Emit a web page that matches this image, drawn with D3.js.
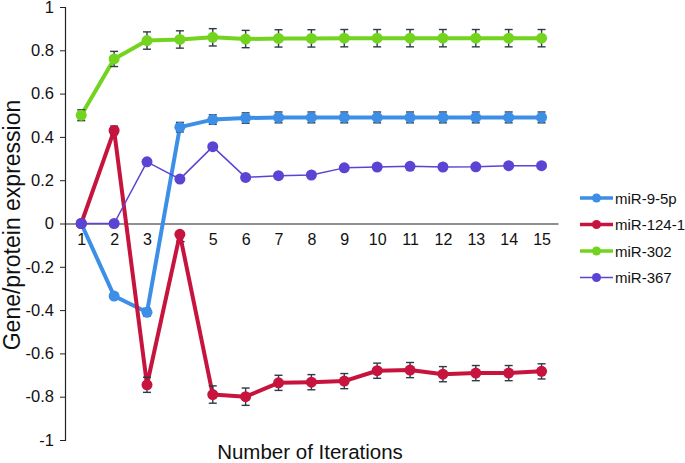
<!doctype html>
<html>
<head>
	<meta charset="UTF-8">
	<script src="https://d3js.org/d3.v7.min.js"></script>
	<style>
		body { margin: 0; background: #fff; }
		text { font-family: "Liberation Sans", Arial, sans-serif; }
	</style>
</head>
<body>
	<script>
		// data
		var iterations = [1, 2, 3, 4, 5, 6, 7, 8, 9, 10, 11, 12, 13, 14, 15];
		var yTicks = [-1, -0.8, -0.6, -0.4, -0.2, 0, 0.2, 0.4, 0.6, 0.8, 1];

		var mir95p = [0, -0.335, -0.41, 0.445, 0.48, 0.487, 0.49, 0.49, 0.49, 0.49, 0.49, 0.49, 0.49, 0.49, 0.49];
		var mir95pErr = [0, 0.012, 0.018, 0.022, 0.022, 0.024, 0.025, 0.025, 0.025, 0.025, 0.025, 0.025, 0.025, 0.025, 0.025];

		var mir1241 = [0, 0.43, -0.745, -0.05, -0.79, -0.80, -0.736, -0.733, -0.728, -0.68, -0.677, -0.696, -0.691, -0.691, -0.683];
		var mir1241Err = [0, 0.02, 0.035, 0, 0.04, 0.04, 0.035, 0.035, 0.035, 0.035, 0.035, 0.035, 0.035, 0.035, 0.035];

		var mir302 = [0.50, 0.76, 0.845, 0.85, 0.86, 0.852, 0.855, 0.855, 0.856, 0.856, 0.856, 0.856, 0.856, 0.856, 0.856];
		var mir302Err = [0.025, 0.035, 0.04, 0.04, 0.04, 0.04, 0.04, 0.04, 0.04, 0.04, 0.04, 0.04, 0.04, 0.04, 0.04];

		var mir367 = [0, 0, 0.285, 0.205, 0.355, 0.213, 0.221, 0.224, 0.257, 0.261, 0.264, 0.261, 0.262, 0.267, 0.267];

		var series = [
			{name: "miR-9-5p", values: mir95p, err: mir95pErr, color: "#3d8ee6", width: 4},
			{name: "miR-124-1", values: mir1241, err: mir1241Err, color: "#c6143f", width: 4},
			{name: "miR-302", values: mir302, err: mir302Err, color: "#72d41e", width: 4},
			{name: "miR-367", values: mir367, err: null, color: "#5a44d4", width: 1.5}
		];

		var width = 685, height = 463;

		var svg = d3.select("body")
					.append("svg")
						.attr("width", width)
						.attr("height", height);

		var x = d3.scaleLinear()
					.domain([0.5, 15.5])
					.range([64.8, 558]);

		var y = d3.scaleLinear()
					.domain([-1, 1])
					.range([440, 7]);

		// y axis
		var yAxis = svg.append("g")
						.attr("transform", "translate(65,0)")
						.call(d3.axisLeft(y).tickValues(yTicks).tickSize(5).tickPadding(6)
							.tickFormat(function(d) { return String(+d.toFixed(1)); }));
		yAxis.select(".domain").attr("stroke", "#222").attr("stroke-width", 1.2);
		yAxis.selectAll(".tick line").attr("stroke", "#222");
		yAxis.selectAll(".tick text")
			.attr("font-size", 16.5)
			.attr("fill", "#111")
			.style("font-family", "Liberation Sans, Arial, sans-serif");

		// x axis along zero
		var xAxis = svg.append("g")
						.attr("transform", "translate(0," + y(0) + ")")
						.call(d3.axisBottom(x).tickValues(iterations).tickSize(0).tickPadding(10)
							.tickFormat(d3.format("d")));
		xAxis.select(".domain").attr("stroke", "#222").attr("stroke-width", 1.2);
		xAxis.selectAll(".tick text")
			.attr("font-size", 16)
			.attr("fill", "#111")
			.style("font-family", "Liberation Sans, Arial, sans-serif");

		var line = d3.line()
						.x(function(d, i) { return x(iterations[i]); })
						.y(function(d) { return y(d); });

		var plot = svg.append("g");

		series.forEach(function(s) {
			var g = plot.append("g");

			g.append("path")
				.datum(s.values)
				.attr("fill", "none")
				.attr("stroke", s.color)
				.attr("stroke-width", s.width)
				.attr("stroke-linejoin", "round")
				.attr("d", line);

			if (s.err) {
				var bars = g.selectAll(".err")
							.data(s.values.map(function(v, i) { return {i: i, v: v, e: s.err[i]}; })
								.filter(function(d) { return d.e > 0; }))
							.enter()
							.append("g")
							.attr("stroke", "#2d3b47")
							.attr("stroke-width", 1.4);
				bars.append("line")
					.attr("x1", function(d) { return x(iterations[d.i]); })
					.attr("x2", function(d) { return x(iterations[d.i]); })
					.attr("y1", function(d) { return y(d.v + d.e); })
					.attr("y2", function(d) { return y(d.v - d.e); });
				[1, -1].forEach(function(sign) {
					bars.append("line")
						.attr("x1", function(d) { return x(iterations[d.i]) - 4; })
						.attr("x2", function(d) { return x(iterations[d.i]) + 4; })
						.attr("y1", function(d) { return y(d.v + sign * d.e); })
						.attr("y2", function(d) { return y(d.v + sign * d.e); });
				});
			}

			g.selectAll("circle")
				.data(s.values)
				.enter()
				.append("circle")
				.attr("cx", function(d, i) { return x(iterations[i]); })
				.attr("cy", function(d) { return y(d); })
				.attr("r", 5.5)
				.attr("fill", s.color);
		});

		// legend
		var legend = svg.append("g")
						.attr("transform", "translate(580,198)");

		series.forEach(function(s, i) {
			var row = legend.append("g")
							.attr("transform", "translate(0," + (i * 26.5) + ")");
			row.append("line")
				.attr("x1", 0).attr("x2", 33)
				.attr("y1", 0).attr("y2", 0)
				.attr("stroke", s.color)
				.attr("stroke-width", s.width === 4 ? 3.5 : 1.5);
			row.append("circle")
				.attr("cx", 16.5).attr("cy", 0)
				.attr("r", 4.5)
				.attr("fill", s.color);
			row.append("text")
				.attr("x", 35)
				.attr("y", 5.5)
				.attr("font-size", 15)
				.attr("fill", "#111")
				.text(s.name);
		});

		// axis titles
		svg.append("text")
			.attr("transform", "translate(20," + 225 + ") rotate(-90)")
			.attr("text-anchor", "middle")
			.attr("font-size", 23)
			.attr("fill", "#111")
			.text("Gene/protein expression");

		svg.append("text")
			.attr("x", 310)
			.attr("y", 459)
			.attr("text-anchor", "middle")
			.attr("font-size", 20.5)
			.attr("fill", "#111")
			.text("Number of Iterations");
	</script>
</body>
</html>
